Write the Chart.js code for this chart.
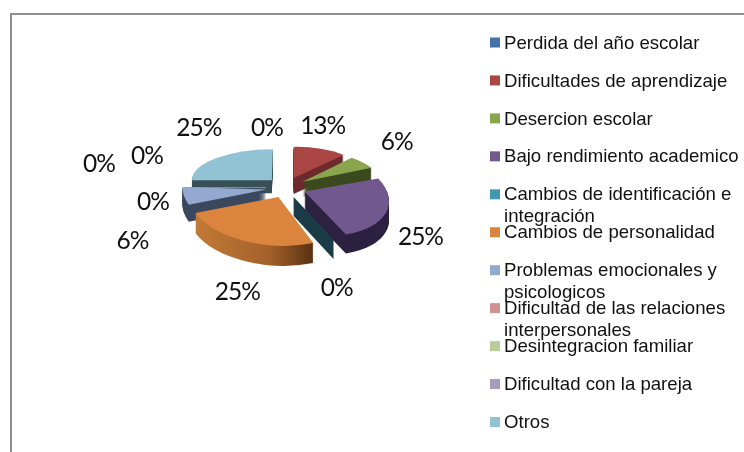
<!DOCTYPE html>
<html>
<head>
<meta charset="utf-8">
<script src="https://cdn.jsdelivr.net/npm/chart.js@4"></script>
<style>
html,body{margin:0;padding:0;background:#fff}
canvas{display:block}
</style>
</head>
<body>
<canvas id="c" width="744" height="452"></canvas>
<script>
// ---- data ----
const categories = ["Perdida del año escolar","Dificultades de aprendizaje","Desercion escolar","Bajo rendimiento academico","Cambios de identificación e integración","Cambios de personalidad","Problemas emocionales y psicologicos","Dificultad de las relaciones interpersonales","Desintegracion familiar","Dificultad con la pareja","Otros"];
const values = [0,2,1,4,0,4,1,0,0,0,4];
// ---- styles ----
const topColors  = ["#4573a7","#aa4644","#89a54e","#71588f","#4198af","#db843d","#93a9cf","#d19392","#b9cd96","#a99bbd","#92c3d4"];
const wallColors = ["#24405f","#6e2b2d","#3c4a1f","#2c2140","#1a3c47","#a3602a","#3b485e","#6b6b6b","#6b6b6b","#6b6b6b","#3a4f57"];
// ---- 3D look: affine projection of the unit pie for each slice, depth of the side wall ----
const projection = [[70,0,0,31],[70.7,-1.5,0,31],[78.5,-1.8,9.2,32.1],[84,4.4,10,44.7],[80,4.4,10,44.7],[90,2.8,0.5,48.6],[84,2.5,0,46],[80,0,0,31],[80,0,0,31],[80,0,0,31],[80,0,-1,31]];
const depths = [0,16,15,19,19,20,17,0,0,0,13];
const paintOrder = [10,7,8,9,1,2,6,3,5,4];
const explode = 20, flatten = 0.52, baseRadius = 100;
// ---- data label nudges, relative to each slice's tip ----
const labelNudge = [[-19,-50],[29,-53],[94,-41],[116,45],[43,90],[-41,94],[-134,51],[-113,13.5],[-167,-24.5],[-119,-32.5],[-73,-53]];

function tipOf(arc){
  const mid=(arc.startAngle+arc.endAngle)/2;
  return {x:arc.x+Math.cos(mid)*explode, y:arc.y+Math.sin(mid)*explode*flatten, mid};
}
function paintArc(ctx,arc,i,dy,fill){
  const t=tipOf(arc), m=projection[i], R=baseRadius;
  ctx.save();
  ctx.translate(t.x,t.y+dy);
  ctx.transform(m[0]/R,m[1]/R,m[2]/R,m[3]/R,0,0);
  ctx.translate(-arc.x,-arc.y);
  const saved=arc.options;
  arc.options=Object.create(saved,{backgroundColor:{value:fill}});
  arc.draw(ctx);
  arc.options=saved;
  ctx.restore();
}
function rimPoint(arc,i,angle){
  const t=tipOf(arc), m=projection[i], cx=Math.cos(angle), sy=Math.sin(angle);
  return {x:t.x+m[0]*cx+m[2]*sy, y:t.y+m[1]*cx+m[3]*sy};
}
const pie3d={
  id:'pie3d',
  beforeDraw(chart){
    const {ctx,width,height}=chart;
    ctx.save();
    ctx.fillStyle='#ffffff';ctx.fillRect(0,0,width,height);
    ctx.strokeStyle='#8e8e8e';ctx.lineWidth=2;
    ctx.beginPath();ctx.moveTo(11,height);ctx.lineTo(11,14);ctx.lineTo(width,14);ctx.stroke();
    ctx.restore();
  },
  beforeDatasetsDraw(chart){
    const ctx=chart.ctx, arcs=chart.getDatasetMeta(0).data;
    ctx.save();
    paintOrder.forEach(i=>{
      const arc=arcs[i];
      if(values[i]===0){
        const t=tipOf(arc), rim=rimPoint(arc,i,arc.startAngle), d=depths[i];
        if(d>0){
          ctx.fillStyle=wallColors[i];
          ctx.beginPath();ctx.moveTo(t.x,t.y);ctx.lineTo(rim.x,rim.y);ctx.lineTo(rim.x,rim.y+d);ctx.lineTo(t.x,t.y+d);ctx.closePath();ctx.fill();
        } else {
          ctx.strokeStyle='#8a8a8a';ctx.lineWidth=1;
          ctx.beginPath();ctx.moveTo(t.x,t.y);ctx.lineTo(rim.x,rim.y);ctx.stroke();
        }
        return;
      }
      let wall=wallColors[i];
      if(i===5){
        const g=ctx.createLinearGradient(arc.x-baseRadius,0,arc.x+baseRadius,0);
        g.addColorStop(0,'#c47c38');g.addColorStop(0.45,'#a3602a');g.addColorStop(0.69,'#5a3212');g.addColorStop(1,'#5a3212');
        wall=g;
      }
      for(let d=depths[i];d>=1;d--) paintArc(ctx,arc,i,d,wall);
      paintArc(ctx,arc,i,0,topColors[i]);
    });
    ctx.restore();
    return false;
  },
  afterDraw(chart){
    const ctx=chart.ctx, arcs=chart.getDatasetMeta(0).data;
    const total=values.reduce((a,b)=>a+b,0);
    ctx.save();
    // data labels
    ctx.font='24.5px "Lato", sans-serif';
    if('letterSpacing' in ctx) ctx.letterSpacing='-1px';
    ctx.fillStyle='#111111';ctx.textAlign='center';ctx.textBaseline='middle';
    values.forEach((v,i)=>{
      const t=tipOf(arcs[i]);
      ctx.fillText(Math.round(v/total*100)+'%',t.x+labelNudge[i][0],t.y+labelNudge[i][1]+1);
    });
    if('letterSpacing' in ctx) ctx.letterSpacing='0px';
    // legend
    ctx.font='18.6px "Liberation Sans", sans-serif';
    ctx.textAlign='left';ctx.textBaseline='middle';
    categories.forEach((name,i)=>{
      const y=42.5+i*37.95;
      ctx.fillStyle=topColors[i];
      ctx.fillRect(490,y-5,10,10);
      ctx.fillStyle='#111111';
      const words=name.split(' ');let line='',ly=y+1;
      words.forEach(w=>{
        const test=line?line+' '+w:w;
        if(ctx.measureText(test).width>238&&line){ctx.fillText(line,504,ly);ly+=21.5;line=w;}
        else line=test;
      });
      ctx.fillText(line,504,ly);
    });
    ctx.restore();
  }
};
new Chart(document.getElementById('c'),{
  type:'pie',
  data:{labels:categories,datasets:[{data:values,backgroundColor:topColors,borderWidth:0}]},
  options:{
    responsive:false,animation:false,radius:baseRadius,
    layout:{padding:{left:0,top:0,right:172,bottom:77}},
    plugins:{legend:{display:false},tooltip:{enabled:false}}
  },
  plugins:[pie3d]
});
</script>
</body>
</html>
